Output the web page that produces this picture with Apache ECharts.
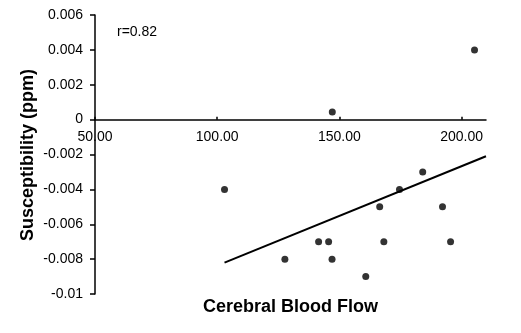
<!DOCTYPE html>
<html>
<head>
<meta charset="utf-8">
<script src="https://cdn.jsdelivr.net/npm/echarts@6/dist/echarts.min.js"></script>
<style>
  html, body { margin: 0; padding: 0; background: #fff; }
  #chart { width: 521px; height: 333px; }
</style>
</head>
<body>
<div id="chart"></div>
<script>
// cerebral blood flow (x) vs susceptibility in ppm (y)
var bloodFlow = [205.3, 147.1, 103.0, 184.1, 174.6, 166.5, 192.2, 141.5, 145.6, 168.2, 195.5, 127.7, 147.0, 160.8]
var susceptibility = [0.004, 0.00044, -0.004, -0.003, -0.004, -0.005, -0.005, -0.007, -0.007, -0.007, -0.007, -0.008, -0.008, -0.009]
// trend line end points
var trendX = [103, 210]
var trendY = [-0.0082, -0.0021]
var xTicks = [50, 100, 150, 200]
var rLabel = 'r=0.82'

var font = 'Arial, "Liberation Sans", sans-serif'
var myChart = echarts.init(document.getElementById('chart'))

var points = bloodFlow.map(function (x, i) { return [x, susceptibility[i]] })
var trend = trendX.map(function (x, i) { return [x, trendY[i]] })

var option = {
  animation: false,
  grid: { left: 95, right: 35, top: 15, bottom: 39 },
  xAxis: {
    type: 'value',
    min: 50,
    max: 210,
    interval: 50,
    axisLine: { onZero: true, lineStyle: { color: '#000', width: 1.5 } },
    axisTick: { show: true, inside: true, length: 3, customValues: xTicks, lineStyle: { color: '#000', width: 1.5 } },
    // labels are drawn below as graphics so they sit under the zero line
    axisLabel: { show: false },
    splitLine: { show: false }
  },
  yAxis: {
    type: 'value',
    min: -0.01,
    max: 0.006,
    interval: 0.002,
    axisLine: { show: true, onZero: false, lineStyle: { color: '#000', width: 1.5 } },
    axisTick: { show: true, length: 5, lineStyle: { color: '#000', width: 1.5 } },
    axisLabel: {
      margin: 12,
      color: '#000',
      fontSize: 14,
      fontFamily: font,
      formatter: function (v) { return String(+v.toFixed(3)) }
    },
    splitLine: { show: false }
  },
  graphic: [
    {
      type: 'text',
      left: 117,
      top: 25,
      style: { text: rLabel, fill: '#000', font: '14px ' + font }
    },
    {
      type: 'text',
      x: 290.5,
      y: 307,
      style: {
        text: 'Cerebral Blood Flow',
        fill: '#000',
        font: 'bold 18px ' + font,
        align: 'center',
        verticalAlign: 'middle'
      }
    },
    {
      type: 'text',
      x: 28,
      y: 155,
      rotation: Math.PI / 2,
      style: {
        text: 'Susceptibility (ppm)',
        fill: '#000',
        font: 'bold 18px ' + font,
        align: 'center',
        verticalAlign: 'middle'
      }
    }
  ],
  series: [
    {
      type: 'scatter',
      data: points,
      symbol: 'circle',
      symbolSize: 7,
      itemStyle: { color: '#000' }
    },
    {
      type: 'line',
      data: trend,
      symbol: 'none',
      lineStyle: { color: '#000', width: 2 }
    }
  ]
}
myChart.setOption(option)

// x tick labels placed through the chart's own scale, just under y = 0
var xLabels = xTicks.map(function (v) {
  var p = myChart.convertToPixel({ gridIndex: 0 }, [v, 0])
  return {
    type: 'text',
    x: p[0],
    y: p[1] + 18,
    style: {
      text: v.toFixed(2),
      fill: '#000',
      font: '14px ' + font,
      align: 'center',
      verticalAlign: 'middle'
    }
  }
})
myChart.setOption({ graphic: option.graphic.concat(xLabels) })
</script>
</body>
</html>
